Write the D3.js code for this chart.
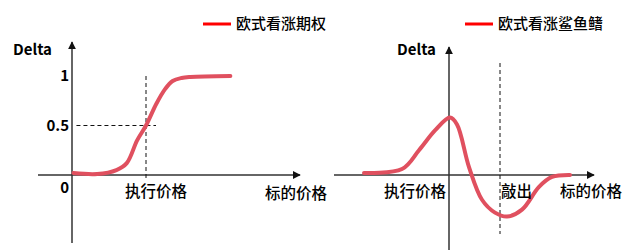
<!DOCTYPE html>
<html>
<head>
<meta charset="utf-8">
<script src="https://cdn.jsdelivr.net/npm/d3@7"></script>
<style>
    body { margin: 0; background: #fff; }
    svg text { font-family: "Microsoft YaHei", "Noto Sans CJK SC", sans-serif; fill: #000; }
    svg text.cn { font-weight: 500; }
</style>
</head>
<body>
<div id="chart"></div>
<script>
// european call delta: [underlying price, delta]
var callPrice = [1, 17, 30, 37, 44, 50, 57, 63, 68, 74, 80, 107];
var callDelta = [0.02, 0.01, 0.05, 0.12, 0.35, 0.5, 0.72, 0.87, 0.95, 0.98, 0.99, 1.0];
var callStrike = 50;

// european call shark fin delta
var finPrice = [15, 34, 42.5, 50.5, 58, 61.5, 67.5, 74, 80.5, 86.5, 94, 102.5, 109, 118];
var finDelta = [0.02, 0.06, 0.25, 0.45, 0.58, 0.51, 0.08, -0.25, -0.38, -0.42, -0.35, -0.12, -0.02, 0.0];
var finBarrier = 83;

var yTicks = [0, 0.5, 1];
var yTickLabels = ['0', '0.5', '1'];
var legendLabels = ['欧式看涨期权', '欧式看涨鲨鱼鳍'];
var xLabel = '标的价格';
var yLabel = 'Delta';
var strikeLabel = '执行价格';
var barrierLabel = '敲出';

var width = 644, height = 250,
    curveColor = '#e0505f',
    axisColor = '#333';

var svg = d3.select('#chart').append('svg')
    .attr('width', width)
    .attr('height', height);

var defs = svg.append('defs');
defs.append('marker')
    .attr('id', 'arrow')
    .attr('viewBox', '0 0 10 10')
    .attr('refX', 9)
    .attr('refY', 5)
    .attr('markerWidth', 8)
    .attr('markerHeight', 8)
    .attr('markerUnits', 'userSpaceOnUse')
    .attr('orient', 'auto')
    .append('path')
    .attr('d', 'M0,0 L10,5 L0,10 Z')
    .attr('fill', '#111');

var y = d3.scaleLinear().domain([0, 1]).range([175, 76]);

// left panel scale
var xL = d3.scaleLinear().domain([0, 100]).range([72, 220]);
// right panel scale
var xR = d3.scaleLinear().domain([0, 130]).range([334, 594]);

function drawAxes(g, xStart, xEnd, yAxisX, yTop, yBottom) {
    g.append('line')
        .attr('x1', xStart).attr('x2', xEnd)
        .attr('y1', y(0)).attr('y2', y(0))
        .attr('stroke', axisColor)
        .attr('stroke-width', 1.5)
        .attr('marker-end', 'url(#arrow)');
    g.append('line')
        .attr('x1', yAxisX).attr('x2', yAxisX)
        .attr('y1', yBottom).attr('y2', yTop)
        .attr('stroke', axisColor)
        .attr('stroke-width', 1.5)
        .attr('marker-end', 'url(#arrow)');
}

function drawCurve(g, xs, prices, deltas) {
    var pts = prices.map(function (p, i) { return [xs(p), y(deltas[i])]; });
    g.append('path')
        .attr('d', d3.line().curve(d3.curveCatmullRom.alpha(0.5))(pts))
        .attr('fill', 'none')
        .attr('stroke', curveColor)
        .attr('stroke-width', 4)
        .attr('stroke-linecap', 'round');
}

function dashed(g, x1, y1, x2, y2) {
    g.append('line')
        .attr('x1', x1).attr('y1', y1)
        .attr('x2', x2).attr('y2', y2)
        .attr('stroke', '#111')
        .attr('stroke-width', 1)
        .attr('stroke-dasharray', '4,3');
}

function legend(g, x, text) {
    g.append('line')
        .attr('x1', x).attr('x2', x + 28)
        .attr('y1', 24).attr('y2', 24)
        .attr('stroke', '#ff0000')
        .attr('stroke-width', 3);
    g.append('text')
        .attr('class', 'cn')
        .attr('x', x + 33).attr('y', 25)
        .attr('dominant-baseline', 'middle')
        .style('font-size', '15px')
        .text(text);
}

function label(g, x, yPos, text, anchor) {
    g.append('text')
        .attr('class', 'cn')
        .attr('x', x).attr('y', yPos)
        .attr('text-anchor', anchor || 'start')
        .attr('dominant-baseline', 'middle')
        .style('font-size', '15.5px')
        .text(text);
}

function deltaTitle(g, x) {
    g.append('text')
        .attr('x', x).attr('y', 51)
        .attr('dominant-baseline', 'middle')
        .style('font-size', '15px')
        .style('font-weight', 'bold')
        .text(yLabel);
}

// ---- left panel
var left = svg.append('g');
drawAxes(left, 38, 300, xL(0), 42, 243);
dashed(left, xL(callStrike), 76, xL(callStrike), 178);
dashed(left, xL(3), y(0.5), 156, y(0.5));
drawCurve(left, xL, callPrice, callDelta);
legend(left, 203, legendLabels[0]);

left.selectAll('.ytick')
    .data(yTicks)
    .enter().append('text')
    .attr('x', 69)
    .attr('y', function (d) { return d === 0 ? 189 : y(d) + 1; })
    .attr('text-anchor', 'end')
    .attr('dominant-baseline', 'middle')
    .style('font-size', '15px')
    .style('font-weight', 'bold')
    .text(function (d, i) { return yTickLabels[i]; });

deltaTitle(left, 13);
label(left, 156, 193, strikeLabel, 'middle');
label(left, 265, 195, xLabel);

// ---- right panel
var right = svg.append('g');
drawAxes(right, 334, 594, xR(57.5), 47, 250);
dashed(right, xR(finBarrier), 63, xR(finBarrier), 234);
drawCurve(right, xR, finPrice, finDelta);
legend(right, 465, legendLabels[1]);

deltaTitle(right, 397);
label(right, 415, 193, strikeLabel, 'middle');
label(right, xR(finBarrier) + 1, 193, barrierLabel);
label(right, 560, 193, xLabel);
</script>
</body>
</html>
